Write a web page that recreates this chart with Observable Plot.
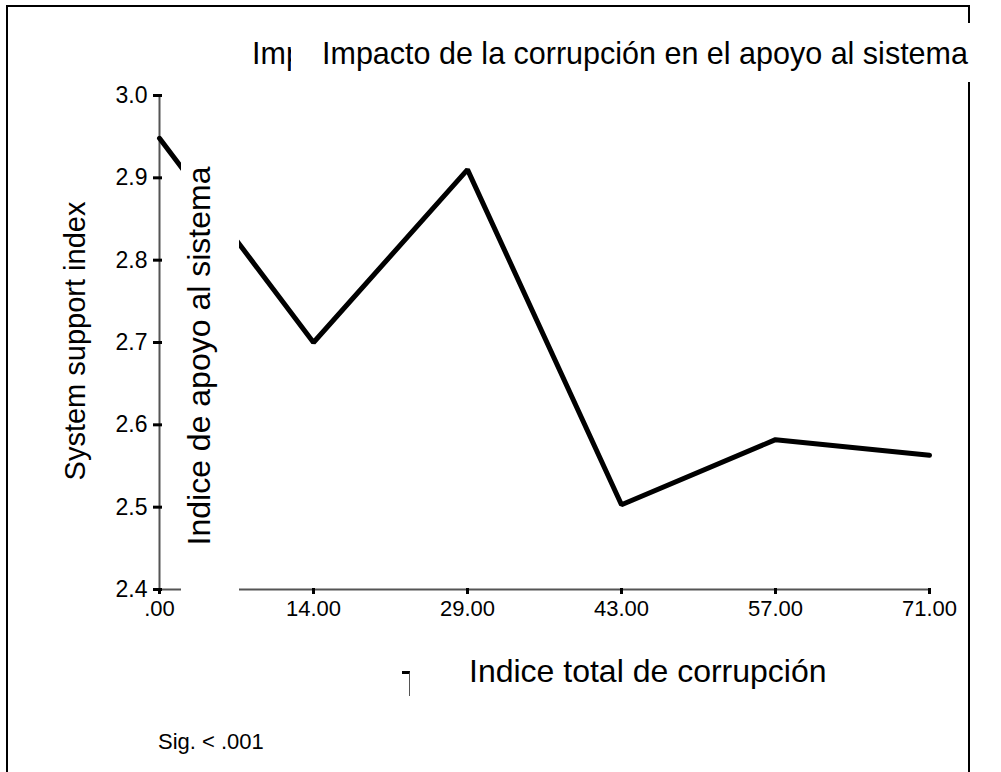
<!DOCTYPE html>
<html>
<head>
<meta charset="utf-8">
<script src="https://cdn.jsdelivr.net/npm/d3@7"></script>
<script src="https://cdn.jsdelivr.net/npm/@observablehq/plot@0.6"></script>
<style>
  html, body { margin: 0; padding: 0; background: #fff; }
  #wrap { position: relative; width: 1001px; height: 772px; overflow: hidden; background: #fff;
          font-family: "Liberation Sans", Arial, sans-serif; color: #000; }
  #wrap svg { position: absolute; left: 0; top: 0; }
  .abs { position: absolute; white-space: nowrap; }
  .rot { transform: translate(-50%, -50%) rotate(-90deg); line-height: 1; }
</style>
</head>
<body>
<div id="wrap"></div>
<script>
// ---- data ----
const categories = [".00", "14.00", "29.00", "43.00", "57.00", "71.00"];
const support = [2.948, 2.70, 2.91, 2.503, 2.582, 2.563];
const yTicks = [2.4, 2.5, 2.6, 2.7, 2.8, 2.9, 3.0];
const titleText = "Impacto de la corrupción en el apoyo al sistema";
const yLabelEn = "System support index";
const yLabelEs = "Indice de apoyo al sistema";
const xLabel = "Indice total de corrupción";
const note = "Sig. < .001";

const data = categories.map((c, i) => ({x: c, y: support[i]}));

const wrap = document.getElementById("wrap");

const chart = Plot.plot({
  width: 1001,
  height: 772,
  marginLeft: 159,
  marginRight: 72,
  marginTop: 95,
  marginBottom: 183,
  style: {fontFamily: "'Liberation Sans', Arial, sans-serif", fontSize: "22px", color: "#000", background: "transparent"},
  x: {type: "point", domain: categories, padding: 0},
  y: {domain: [2.4, 3.0]},
  marks: [
    Plot.ruleY([2.4], {stroke: "#555", strokeWidth: 2}),
    Plot.ruleX([categories[0]], {stroke: "#555", strokeWidth: 2}),
    Plot.axisY({ticks: yTicks, tickFormat: d => d.toFixed(1), tickSize: 9, tickPadding: 6, dx: 3,
                stroke: "#000", strokeWidth: 3, strokeOpacity: 1, fontSize: 23, label: null}),
    Plot.axisX({ticks: categories, tickSize: 6, tickPadding: 6, dy: -1,
                stroke: "#000", strokeWidth: 3, strokeOpacity: 1, fontSize: 22, label: null}),
    Plot.line(data, {x: "x", y: "y", stroke: "#000", strokeWidth: 5, strokeLinejoin: "miter"})
  ]
});
wrap.appendChild(chart);

// make sure tick label sizes are applied
d3.select(chart).selectAll('g[aria-label="y-axis tick label"]').attr("font-size", 23).selectAll("text").style("font-size", "23px");
d3.select(chart).selectAll('g[aria-label="x-axis tick label"]').attr("font-size", 22).selectAll("text").style("font-size", "22px");

function add(html, css, cls) {
  const d = document.createElement("div");
  d.className = "abs " + (cls || "");
  d.style.cssText += css;
  if (html !== null) d.textContent = html;
  wrap.appendChild(d);
  return d;
}

// outer frame (top, left, right borders)
add(null, "left:6px;top:5px;width:960px;height:900px;border:2px solid #000;border-bottom:none;");

// clipped duplicate title fragment
add(titleText, "left:252px;top:38px;font-size:30.5px;line-height:30px;");
// title box with white background
const tb = add(null, "left:291px;top:23px;width:686px;height:59px;background:#fff;");
const tt = document.createElement("div");
tt.textContent = titleText;
tt.style.cssText = "position:absolute;left:31px;top:15px;font-size:30.5px;line-height:30px;white-space:nowrap;";
tb.appendChild(tt);

// y label (English)
add(yLabelEn, "left:75px;top:341px;font-size:29px;", "rot");

// white mask with Spanish y label
add(null, "left:181px;top:150px;width:58px;height:445px;background:#fff;");
add(yLabelEs, "left:199px;top:356px;font-size:32px;", "rot");

// x axis title
add(xLabel, "left:469px;top:655px;font-size:32px;line-height:32px;");

// small stray mark
add(null, "left:402px;top:671px;width:7px;height:22px;border-top:3px solid #000;border-right:1.5px solid #555;");

// significance note
add(note, "left:158px;top:731px;font-size:22px;line-height:22px;");
</script>
</body>
</html>
